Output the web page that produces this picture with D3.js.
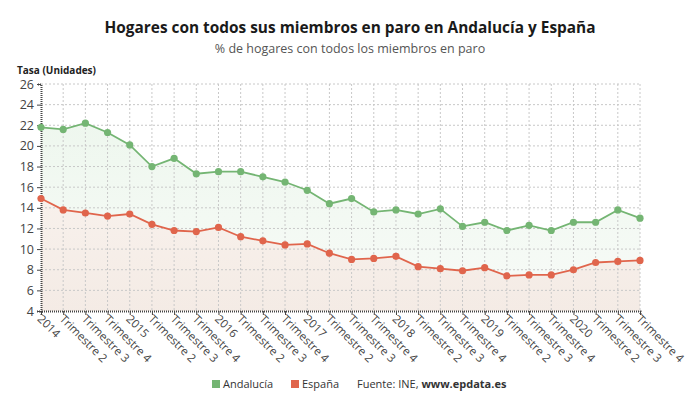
<!DOCTYPE html>
<html><head><meta charset="utf-8">
<script src="https://cdn.jsdelivr.net/npm/d3@7"></script>
<style>
body{margin:0;background:#fff;font-family:"Open Sans",sans-serif;}
</style></head>
<body><svg id="c" width="700" height="411"></svg>
<script>
const categories = ["2014","Trimestre 2","Trimestre 3","Trimestre 4",
"2015","Trimestre 2","Trimestre 3","Trimestre 4",
"2016","Trimestre 2","Trimestre 3","Trimestre 4",
"2017","Trimestre 2","Trimestre 3","Trimestre 4",
"2018","Trimestre 2","Trimestre 3","Trimestre 4",
"2019","Trimestre 2","Trimestre 3","Trimestre 4",
"2020","Trimestre 2","Trimestre 3","Trimestre 4"];
const andalucia = [21.8,21.6,22.2,21.3,20.1,18.0,18.8,17.3,17.5,17.5,17.0,16.5,15.7,14.4,14.9,13.6,13.8,13.4,13.9,12.2,12.6,11.8,12.3,11.8,12.6,12.6,13.8,13.0];
const espana = [14.9,13.8,13.5,13.2,13.4,12.4,11.8,11.7,12.1,11.2,10.8,10.4,10.5,9.6,9.0,9.1,9.3,8.3,8.1,7.9,8.2,7.4,7.5,7.5,8.0,8.7,8.8,8.9];
const yTicks = [4,6,8,10,12,14,16,18,20,22,24,26];

const svg = d3.select("#c");
const mL = 41, mR = 640, mT = 84, mB = 311;
const x = d3.scalePoint().domain(d3.range(categories.length)).range([mL, mR]);
const y = d3.scaleLinear().domain([4, 26]).range([mB, mT]);

const defs = svg.append("defs");
const gg = defs.append("linearGradient").attr("id","gG").attr("x1",0).attr("y1",0).attr("x2",0).attr("y2",1);
gg.append("stop").attr("offset","0%").attr("stop-color","#eef7ee");
gg.append("stop").attr("offset","100%").attr("stop-color","#f8fbf8");
const rg = defs.append("linearGradient").attr("id","rG").attr("x1",0).attr("y1",0).attr("x2",0).attr("y2",1);
rg.append("stop").attr("offset","0%").attr("stop-color","#f8f1ec");
rg.append("stop").attr("offset","100%").attr("stop-color","#f4ebe5");

// title
svg.append("text").attr("x",350).attr("y",33).attr("text-anchor","middle")
  .attr("font-size",15.4).attr("font-weight","bold").attr("fill","#1a1a1a")
  .text("Hogares con todos sus miembros en paro en Andalucía y España");
svg.append("text").attr("x",350).attr("y",53).attr("text-anchor","middle")
  .attr("font-size",12.5).attr("fill","#555")
  .text("% de hogares con todos los miembros en paro");
svg.append("text").attr("x",17).attr("y",74).attr("font-size",10).attr("font-weight","bold").attr("fill","#222")
  .text("Tasa (Unidades)");

// areas
const idx = d3.range(categories.length);
svg.append("path").datum(idx).attr("fill","url(#gG)")
  .attr("d", d3.area().x(i=>x(i)).y0(mB).y1(i=>y(andalucia[i])));
svg.append("path").datum(idx).attr("fill","url(#rG)")
  .attr("d", d3.area().x(i=>x(i)).y0(mB).y1(i=>y(espana[i])));

// grid
const grid = svg.append("g");
grid.selectAll("line.h").data(yTicks.slice(1)).join("line")
  .attr("x1",mL).attr("x2",mR).attr("y1",d=>y(d)).attr("y2",d=>y(d))
  .attr("stroke","#c8c8c8").attr("stroke-dasharray","2,2").attr("stroke-width",1);
grid.selectAll("line.v").data(idx.slice(1)).join("line")
  .attr("x1",i=>x(i)).attr("x2",i=>x(i)).attr("y1",mT).attr("y2",mB)
  .attr("stroke","#c8c8c8").attr("stroke-dasharray","2,2").attr("stroke-width",1);

// y axis
const yAxis = svg.append("g").attr("transform",`translate(${mL},0)`)
  .call(d3.axisLeft(y).tickValues(yTicks).tickSize(4).tickPadding(3));
yAxis.select(".domain").attr("stroke","#444").attr("stroke-width",2).attr("stroke-dasharray","1,1");
yAxis.selectAll(".tick line").attr("stroke","#444");
yAxis.selectAll("text").attr("font-size",12.5).attr("fill","#444").attr("font-family","Open Sans");

// x axis
const xAxis = svg.append("g").attr("transform",`translate(0,${mB})`)
  .call(d3.axisBottom(x).tickSize(4).tickFormat(i=>categories[i]));
xAxis.select(".domain").attr("stroke","#444").attr("stroke-width",2).attr("stroke-dasharray","1,1");
xAxis.selectAll(".tick line").attr("stroke","#444");
xAxis.selectAll("text").attr("font-size",11.5).attr("fill","#444").attr("font-family","Open Sans")
  .attr("text-anchor","start").attr("transform","translate(1,3) rotate(45)").attr("x",0).attr("y",4).attr("dy","0.35em");

// lines
const series = [{v:andalucia,c:"#74b573"},{v:espana,c:"#e0654c"}];
series.forEach(s=>{
  svg.append("path").datum(idx).attr("fill","none").attr("stroke",s.c).attr("stroke-width",1.8)
    .attr("d", d3.line().x(i=>x(i)).y(i=>y(s.v[i])));
  svg.append("g").selectAll("circle").data(idx).join("circle")
    .attr("cx",i=>x(i)).attr("cy",i=>y(s.v[i])).attr("r",3.6).attr("fill",s.c);
});

// legend
const lg = svg.append("g").attr("font-size",11).attr("fill","#333");
lg.append("rect").attr("x",212).attr("y",380).attr("width",8).attr("height",8).attr("fill","#74b573");
lg.append("text").attr("x",223).attr("y",388).attr("fill","#333").text("Andalucía");
lg.append("rect").attr("x",291).attr("y",380).attr("width",8).attr("height",8).attr("fill","#e0654c");
lg.append("text").attr("x",302).attr("y",388).attr("fill","#333").text("España");
const f = lg.append("text").attr("x",357).attr("y",388).attr("fill","#333");
f.append("tspan").text("Fuente: INE, ");
f.append("tspan").attr("font-weight","bold").text("www.epdata.es");
</script></body></html>
